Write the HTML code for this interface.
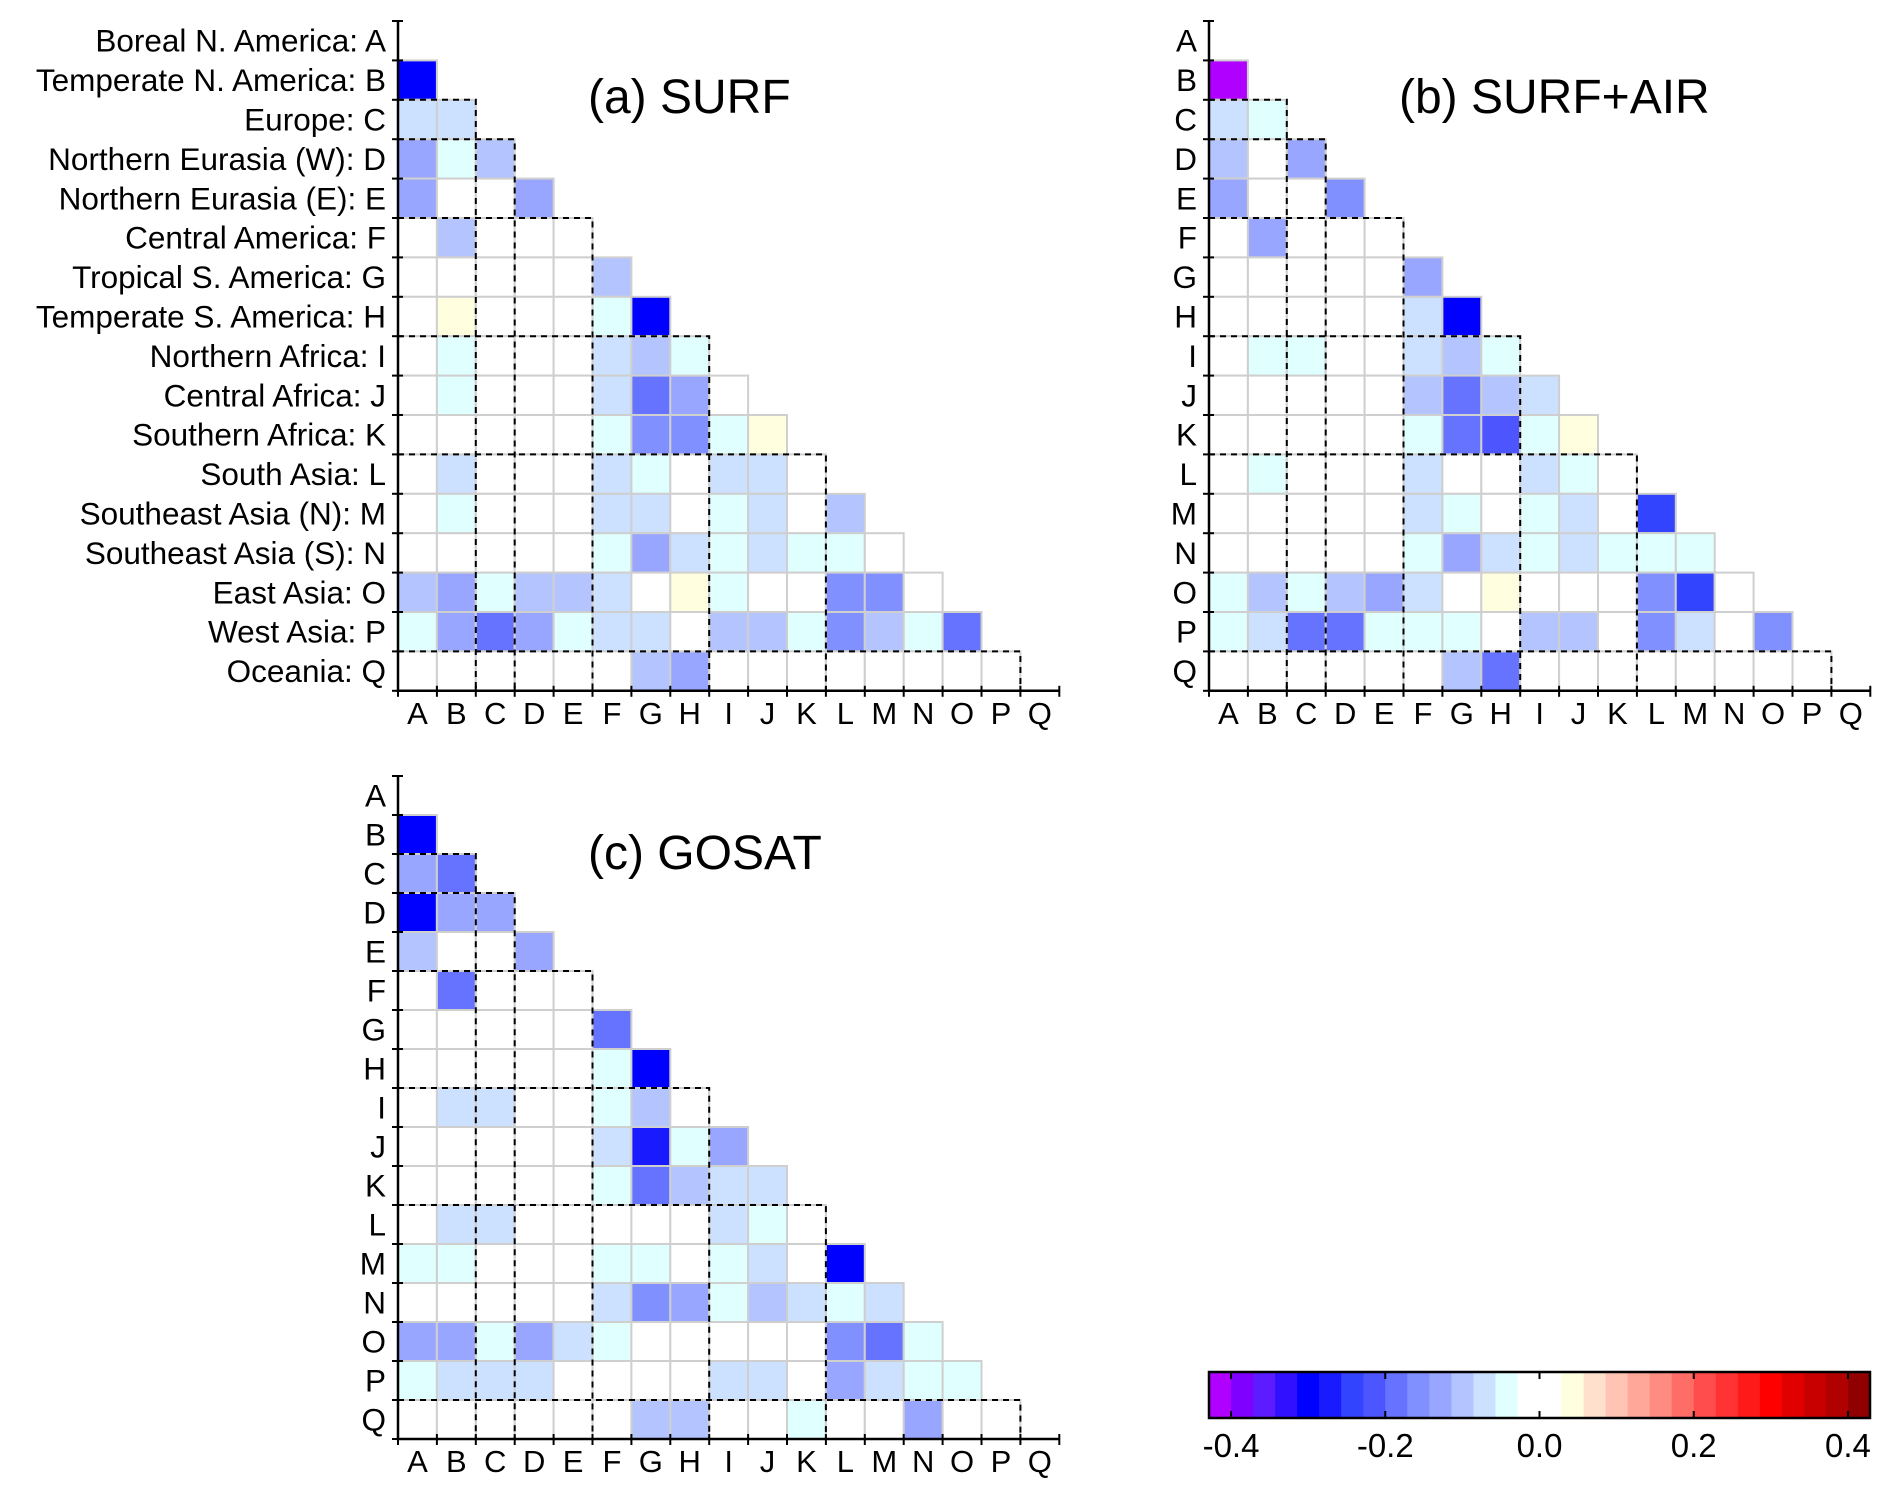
<!DOCTYPE html>
<html><head><meta charset="utf-8">
<style>
html,body{margin:0;padding:0;background:#fff;}
svg{display:block;font-family:"Liberation Sans",Arial,sans-serif;}
</style></head>
<body>
<svg id="fig" width="1892" height="1490" viewBox="0 0 1892 1490" xmlns="http://www.w3.org/2000/svg">
<rect width="1892" height="1490" fill="#fff"/>
</svg>
<script>
// ---- data ----
const letters = ["A","B","C","D","E","F","G","H","I","J","K","L","M","N","O","P","Q"];
const regionNames = ["Boreal N. America","Temperate N. America","Europe","Northern Eurasia (W)","Northern Eurasia (E)","Central America","Tropical S. America","Temperate S. America","Northern Africa","Central Africa","Southern Africa","South Asia","Southeast Asia (N)","Southeast Asia (S)","East Asia","West Asia","Oceania"];
const groupEnds = [2,3,5,8,11,16];
const surfValues = [
 [],
 [-0.30],
 [-0.07,-0.07],
 [-0.13,-0.04,-0.10],
 [-0.13,0,0,-0.13],
 [0,-0.10,0,0,0],
 [0,0,0,0,0,-0.10],
 [0,0.04,0,0,0,-0.04,-0.30],
 [0,-0.04,0,0,0,-0.07,-0.10,-0.04],
 [0,-0.04,0,0,0,-0.07,-0.19,-0.13,0],
 [0,0,0,0,0,-0.04,-0.16,-0.16,-0.04,0.04],
 [0,-0.07,0,0,0,-0.07,-0.04,0,-0.07,-0.07,0],
 [0,-0.04,0,0,0,-0.07,-0.07,0,-0.04,-0.07,0,-0.10],
 [0,0,0,0,0,-0.04,-0.13,-0.07,-0.04,-0.07,-0.04,-0.04,0],
 [-0.10,-0.13,-0.04,-0.10,-0.10,-0.07,0,0.04,-0.04,0,0,-0.16,-0.16,0],
 [-0.04,-0.13,-0.19,-0.13,-0.04,-0.07,-0.07,0,-0.10,-0.10,-0.04,-0.16,-0.10,-0.04,-0.19],
 [0,0,0,0,0,0,-0.10,-0.13,0,0,0,0,0,0,0,0]
];
const surfAirValues = [
 [],
 [-0.41],
 [-0.07,-0.04],
 [-0.10,0,-0.13],
 [-0.13,0,0,-0.16],
 [0,-0.13,0,0,0],
 [0,0,0,0,0,-0.13],
 [0,0,0,0,0,-0.07,-0.30],
 [0,-0.04,-0.04,0,0,-0.07,-0.10,-0.04],
 [0,0,0,0,0,-0.10,-0.19,-0.10,-0.07],
 [0,0,0,0,0,-0.04,-0.19,-0.21,-0.04,0.04],
 [0,-0.04,0,0,0,-0.07,0,0,-0.07,-0.04,0],
 [0,0,0,0,0,-0.07,-0.04,0,-0.04,-0.07,0,-0.24],
 [0,0,0,0,0,-0.04,-0.13,-0.07,-0.04,-0.07,-0.04,-0.04,-0.04],
 [-0.04,-0.10,-0.04,-0.10,-0.13,-0.07,0,0.04,0,0,0,-0.16,-0.24,0],
 [-0.04,-0.07,-0.19,-0.19,-0.04,-0.04,-0.04,0,-0.10,-0.10,0,-0.16,-0.07,0,-0.16],
 [0,0,0,0,0,0,-0.10,-0.19,0,0,0,0,0,0,0,0]
];
const gosatValues = [
 [],
 [-0.30],
 [-0.13,-0.19],
 [-0.30,-0.13,-0.13],
 [-0.10,0,0,-0.13],
 [0,-0.19,0,0,0],
 [0,0,0,0,0,-0.19],
 [0,0,0,0,0,-0.04,-0.30],
 [0,-0.07,-0.07,0,0,-0.04,-0.10,0],
 [0,0,0,0,0,-0.07,-0.27,-0.04,-0.13],
 [0,0,0,0,0,-0.04,-0.19,-0.10,-0.07,-0.07],
 [0,-0.07,-0.07,0,0,0,0,0,-0.07,-0.04,0],
 [-0.04,-0.04,0,0,0,-0.04,-0.04,0,-0.04,-0.07,0,-0.30],
 [0,0,0,0,0,-0.07,-0.16,-0.13,-0.04,-0.10,-0.07,-0.04,-0.07],
 [-0.13,-0.13,-0.04,-0.13,-0.07,-0.04,0,0,0,0,0,-0.16,-0.19,-0.04],
 [-0.04,-0.07,-0.07,-0.07,0,0,0,0,-0.07,-0.07,0,-0.13,-0.07,-0.04,-0.04],
 [0,0,0,0,0,0,-0.10,-0.10,0,0,-0.04,0,0,-0.13,0,0]
];
const cbColors = ["#b000ff","#8000ff","#5c1cff","#3010ff","#0000ff","#1a1aff","#3344ff","#4d55ff","#6673ff","#8090ff","#99a6ff","#b3c4ff","#cce0ff","#e0ffff","#ffffff","#ffffff","#ffffe0","#ffe0cc","#ffc4b3","#ffa899","#ff8c80","#ff6e66","#ff4d4d","#ff3333","#ff1a1a","#ff0000","#e00000","#c80000","#b00000","#900000"];
const cbTicks = [-0.4,-0.2,0.0,0.2,0.4];
const cbTickLabels = ["-0.4","-0.2","0.0","0.2","0.4"];

const NS="http://www.w3.org/2000/svg";
const svg=document.getElementById('fig');
function mk(tag,attrs,parent){const e=document.createElementNS(NS,tag);for(const k in attrs)e.setAttribute(k,attrs[k]);(parent||svg).appendChild(e);return e;}
const step=0.2/7, vmin=-0.4-step;
function colorOf(v){let i=Math.floor((v-vmin)/step);i=Math.max(0,Math.min(cbColors.length-1,i));return cbColors[i];}

function panel(name,values,x0,y0,cw,ch,title,tx,ty,longLabels){
  const g=mk('g',{});
  
  
  const N=17;
  const X=c=>x0+c*cw, Y=r=>y0+r*ch;
  for(let r=1;r<N;r++){
    for(let c=0;c<r;c++){
      const v=values[r][c];
      const rc=mk('rect',{x:X(c),y:Y(r),width:cw,height:ch,fill:colorOf(v),stroke:'#cfcfcf','stroke-width':2},g);
      
      
    }
  }
  groupEnds.forEach(b=>{
    mk('path',{d:`M${X(0)} ${Y(b)} H${X(b)} V${Y(N)}`,fill:'none',stroke:'#000','stroke-width':2,'stroke-dasharray':'6,5'},g);
  });
  mk('path',{d:`M${X(0)} ${Y(0)} V${Y(N)} H${X(N)}`,fill:'none',stroke:'#000','stroke-width':2.5},g);
  for(let i=0;i<=N;i++){
    mk('line',{x1:X(i),y1:Y(N)-5,x2:X(i),y2:Y(N)+6,stroke:'#000','stroke-width':2},g);
    mk('line',{x1:X(0)-6,y1:Y(i),x2:X(0)+5,y2:Y(i),stroke:'#000','stroke-width':2},g);
  }
  for(let i=0;i<N;i++){
    const t=mk('text',{x:X(i)+cw/2,y:Y(N)+33,'text-anchor':'middle','font-size':31,fill:'#000'},g);
    t.textContent=letters[i];
    
    
    const s=mk('text',{x:X(0)-12,y:Y(i)+ch/2+11,'text-anchor':'end','font-size':31.5,fill:'#000'},g);
    s.textContent=longLabels?regionNames[i]+': '+letters[i]:letters[i];
    
    
  }
  const tt=mk('text',{x:tx,y:ty,'font-size':48,fill:'#000'},g);
  tt.textContent=title;
  
  
}
panel('panel-surf',surfValues,398,21,38.9,39.4,'(a) SURF',588,113,true);
panel('panel-surf-air',surfAirValues,1209,21,38.9,39.4,'(b) SURF+AIR',1399,113,false);
panel('panel-gosat',gosatValues,398,776,38.9,39.0,'(c) GOSAT',588,869,false);

const cb=mk('g',{});


const cbx0=1209,cbx1=1870,cby0=1372,cby1=1418;
const sw=(cbx1-cbx0)/cbColors.length;
cbColors.forEach((c,i)=>{mk('rect',{x:cbx0+i*sw,y:cby0,width:sw+0.5,height:cby1-cby0,fill:c},cb);});
mk('rect',{x:cbx0,y:cby0,width:cbx1-cbx0,height:cby1-cby0,fill:'none',stroke:'#000','stroke-width':2.5},cb);
const cbX=v=>cbx0+(v-vmin)/step*sw;
cbTicks.forEach((v,i)=>{
  const x=cbX(v);
  mk('line',{x1:x,y1:cby0,x2:x,y2:cby0+7,stroke:'#000','stroke-width':2},cb);
  mk('line',{x1:x,y1:cby1-7,x2:x,y2:cby1,stroke:'#000','stroke-width':2},cb);
  const t=mk('text',{x:x,y:1457,'text-anchor':'middle','font-size':33,fill:'#000'},cb);
  t.textContent=cbTickLabels[i];
  
  
});
</script>
</body></html>
